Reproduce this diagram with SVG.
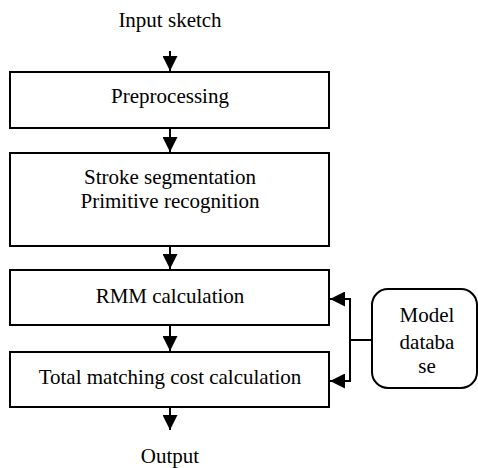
<svg xmlns="http://www.w3.org/2000/svg" width="478" height="468" viewBox="0 0 478 468">
  <style>
    .box { fill: #fff; stroke: #000; stroke-width: 2; }
    .lbl { font-family: 'Liberation Serif', Tinos, 'Times New Roman', Times, 'DejaVu Serif', serif; font-size: 21px; fill: #000; text-anchor: middle; }
    .wire { fill: none; stroke: #000; stroke-width: 2; }
  </style>
  <defs>
    <marker id="head" viewBox="0 0 10 10" refX="10" refY="5" markerWidth="7.5" markerHeight="7.5" markerUnits="strokeWidth" orient="auto">
      <path d="M0,0 L10,5 L0,10 Z" fill="#000"/>
    </marker>
  </defs>

  <text class="lbl" x="170" y="27">Input sketch</text>

  <g id="preprocessing">
    <rect class="box" x="10" y="72" width="319" height="56"/>
    <text class="lbl" x="170" y="103">Preprocessing</text>
  </g>

  <g id="segmentation">
    <rect class="box" x="10" y="153" width="319" height="93"/>
    <text class="lbl" x="170" y="184">Stroke segmentation</text>
    <text class="lbl" x="170" y="208">Primitive recognition</text>
  </g>

  <g id="rmm">
    <rect class="box" x="10" y="270" width="319" height="55"/>
    <text class="lbl" x="170" y="303">RMM calculation</text>
  </g>

  <g id="matching">
    <rect class="box" x="10" y="352" width="319" height="55"/>
    <text class="lbl" x="170" y="384">Total matching cost calculation</text>
  </g>

  <g id="database">
    <rect class="box" x="372" y="289" width="105" height="99" rx="16" ry="16"/>
    <text class="lbl" x="427" y="322">Model</text>
    <text class="lbl" x="427" y="349">databa</text>
    <text class="lbl" x="427" y="373">se</text>
  </g>

  <text class="lbl" x="170" y="463">Output</text>

  <g id="connectors">
    <line class="wire" x1="170" y1="51" x2="170" y2="71" marker-end="url(#head)"/>
    <line class="wire" x1="170" y1="128" x2="170" y2="152" marker-end="url(#head)"/>
    <line class="wire" x1="170" y1="246" x2="170" y2="269" marker-end="url(#head)"/>
    <line class="wire" x1="170" y1="325" x2="170" y2="351" marker-end="url(#head)"/>
    <line class="wire" x1="170" y1="407" x2="170" y2="430" marker-end="url(#head)"/>
    <path class="wire" d="M372,340 H350"/>
    <path class="wire" d="M350,340 V299 H330" marker-end="url(#head)"/>
    <path class="wire" d="M350,340 V381 H330" marker-end="url(#head)"/>
  </g>
</svg>
